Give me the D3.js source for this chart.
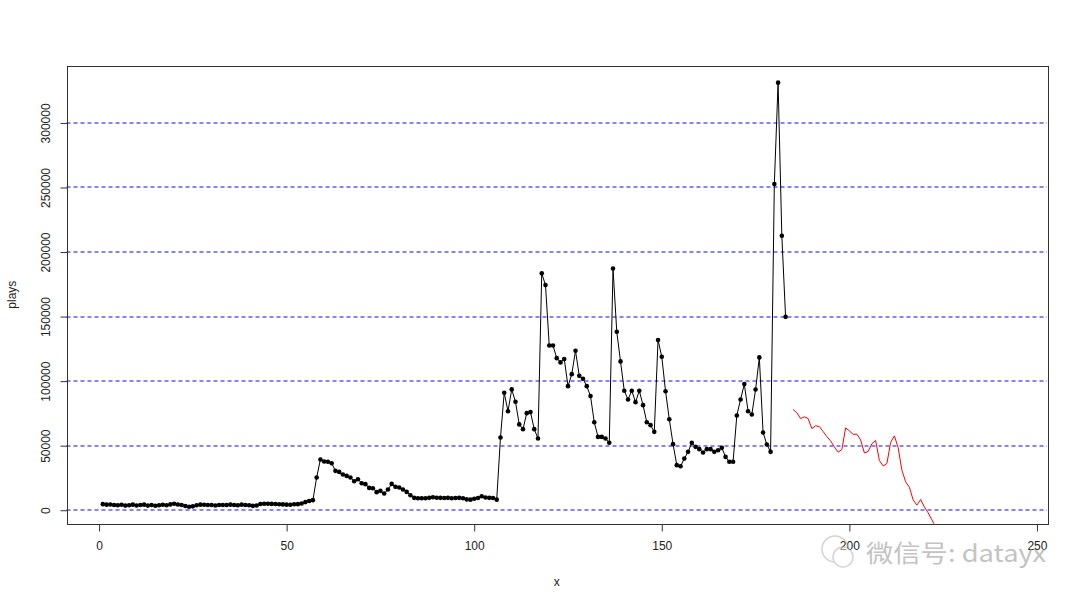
<!DOCTYPE html>
<html>
<head>
<meta charset="utf-8">
<script src="https://cdn.jsdelivr.net/npm/d3@7"></script>
<style>
  html, body { margin: 0; padding: 0; background: #fff; }
  svg { display: block; font-family: "Liberation Sans", Arial, sans-serif; }
</style>
</head>
<body>
<svg id="chart" width="1080" height="606"></svg>
<script>
// ---- data ----
const plays = [
  4700, 4300, 4400, 4000, 3800, 4200, 3600, 3900, 4300, 3700,
  4100, 4300, 3600, 4000, 3500, 3800, 4200, 3900, 4500, 5000,
  4400, 4100, 3300, 2700, 3000, 3800, 4300, 4200, 4000, 4100,
  3700, 4000, 4100, 4000, 4300, 4100, 3900, 4300, 4000, 3800,
  3400, 3700, 4800, 5000, 5000, 4900, 4800, 4600, 4500, 4300,
  4200, 4600, 4700, 5200, 6300, 7200, 7800, 25300, 39300, 37700,
  37500, 36400, 30500, 29700, 27700, 26600, 25300, 22500, 24000, 20900,
  20200, 17300, 17000, 14000, 15000, 12900, 16000, 20400, 18100, 17600,
  16000, 14200, 11600, 9600, 9300, 9300, 9300, 9600, 10000, 9700,
  9600, 9500, 9600, 9300, 9500, 9600, 9300, 8400, 8200, 8900,
  9500, 10800, 9800, 9600, 9500, 8200, 56300, 91000, 76700, 93600,
  84000, 66500, 62800, 75200, 76000, 62800, 55600, 183500, 174400, 127600,
  127600, 117800, 114500, 117100, 96100, 105400, 123500, 104100, 101800, 96100,
  88400, 68200, 56800, 56800, 55600, 52300, 187200, 138200, 115300, 92500,
  85800, 92500, 83700, 92500, 81400, 68200, 65900, 60700, 131800, 118900,
  92200, 70500, 51200, 34900, 34100, 40000, 45200, 52200, 49100, 47300,
  44700, 47300, 47300, 45200, 46500, 48300, 41300, 37500, 37500, 73400,
  85800, 97700, 76700, 74200, 93500, 118400, 60200, 50900, 45200, 252700,
  331200, 212600, 149800
];
const predStart = 185;
const predicted = [
  78000, 75500, 71000, 72300, 71000, 63300, 65400, 64800, 61000, 57000,
  53700, 49100, 45000, 47000, 63800, 61500, 58800, 58900, 54500, 44400,
  45500, 51500, 54000, 38500, 34300, 36200, 52500, 57600, 48500, 31000,
  22000, 17800, 8000, 4000, 8300, 2500, -2000, -7500, -13000
];
const xTicks = [0, 50, 100, 150, 200, 250];
const yTicks = [0, 50000, 100000, 150000, 200000, 250000, 300000];
const xLimits = [1, 243];
const yLimits = [2700, 331200];
const xTitle = "x";
const yTitle = "plays";
const watermark = "微信号: datayx";

// ---- layout ----
const svg = d3.select("#chart");
const box = { left: 66.5, right: 1047, top: 65.7, bottom: 523.7 };
const pad = (lim) => { const r = lim[1] - lim[0]; return [lim[0] - 0.04 * r, lim[1] + 0.04 * r]; };

const x = d3.scaleLinear().domain(pad(xLimits)).range([box.left, box.right]);
const y = d3.scaleLinear().domain(pad(yLimits)).range([box.bottom, box.top]);
const crisp = v => Math.round(v) + 0.5;

svg.append("defs").append("clipPath").attr("id", "clip")
  .append("rect")
  .attr("x", box.left).attr("y", box.top)
  .attr("width", box.right - box.left).attr("height", box.bottom - box.top);

// grid lines
svg.append("g").selectAll("line").data(yTicks).join("line")
  .attr("x1", box.left).attr("x2", box.right)
  .attr("y1", d => Math.round(y(d))).attr("y2", d => Math.round(y(d)))
  .attr("stroke", "#5c5cff").attr("stroke-width", 1.3)
  .attr("stroke-dasharray", "4,3");

// series
const pts = plays.map((v, i) => [i + 1, v]);
const line = d3.line().x(d => x(d[0])).y(d => y(d[1]));
svg.append("path").datum(pts)
  .attr("d", line).attr("fill", "none")
  .attr("stroke", "#000").attr("stroke-width", 1);
svg.append("g").selectAll("circle").data(pts).join("circle")
  .attr("cx", d => x(d[0])).attr("cy", d => y(d[1])).attr("r", 2.3)
  .attr("fill", "#000");

const pred = predicted.map((v, i) => [predStart + i, v]);
svg.append("path").datum(pred)
  .attr("clip-path", "url(#clip)")
  .attr("d", line).attr("fill", "none")
  .attr("stroke", "#ff0000").attr("stroke-width", 1);

// box
svg.append("rect")
  .attr("x", crisp(box.left)).attr("y", crisp(box.top))
  .attr("width", Math.round(box.right - box.left)).attr("height", Math.round(box.bottom - box.top))
  .attr("fill", "none").attr("stroke", "#333").attr("stroke-width", 1)
  .attr("shape-rendering", "crispEdges");

// x axis
const xAxis = svg.append("g").attr("transform", `translate(0,${crisp(box.bottom)})`)
  .call(d3.axisBottom(x).tickValues(xTicks).tickSize(7).tickPadding(10).tickFormat(d3.format("d")));
xAxis.select(".domain").attr("d", `M${x(xTicks[0])},0H${x(xTicks[xTicks.length - 1])}`).attr("stroke", "#333");
xAxis.selectAll(".tick line").attr("stroke", "#333");
xAxis.selectAll("text").attr("font-size", 12).attr("fill", "#222")
  .attr("font-family", "Liberation Sans, Arial, sans-serif");

// y axis
const yAxis = svg.append("g").attr("transform", `translate(${crisp(box.left)},0)`)
  .call(d3.axisLeft(y).tickValues(yTicks).tickSize(7).tickFormat(d3.format("d")));
yAxis.select(".domain").attr("d", `M0,${y(yTicks[0])}V${y(yTicks[yTicks.length - 1])}`).attr("stroke", "#333");
yAxis.selectAll(".tick line").attr("stroke", "#333");
yAxis.selectAll("text")
  .attr("font-size", 12).attr("fill", "#222")
  .attr("font-family", "Liberation Sans, Arial, sans-serif")
  .attr("x", null).attr("dy", null)
  .attr("text-anchor", "middle")
  .attr("transform", "translate(-22,0) rotate(-90)")
  .attr("dominant-baseline", "central");

// titles
svg.append("text").attr("x", (box.left + box.right) / 2).attr("y", 586)
  .attr("text-anchor", "middle").attr("font-size", 12).attr("fill", "#222").text(xTitle);
svg.append("text").attr("transform", `translate(12,${(box.top + box.bottom) / 2}) rotate(-90)`)
  .attr("text-anchor", "middle").attr("dominant-baseline", "central")
  .attr("font-size", 12).attr("fill", "#222").text(yTitle);

// watermark
const wm = svg.append("g").attr("opacity", 0.5);
wm.append("circle").attr("cx", 835).attr("cy", 549).attr("r", 13)
  .attr("fill", "none").attr("stroke", "#aaa").attr("stroke-width", 1.5);
wm.append("circle").attr("cx", 843).attr("cy", 557).attr("r", 10)
  .attr("fill", "#fff").attr("stroke", "#aaa").attr("stroke-width", 1.5);
wm.append("text").attr("x", 866).attr("y", 562)
  .attr("font-size", 24).attr("fill", "#888")
  .attr("textLength", 180).attr("lengthAdjust", "spacingAndGlyphs")
  .attr("font-family", "Noto Sans CJK SC, sans-serif").text(watermark);
</script>
</body>
</html>
